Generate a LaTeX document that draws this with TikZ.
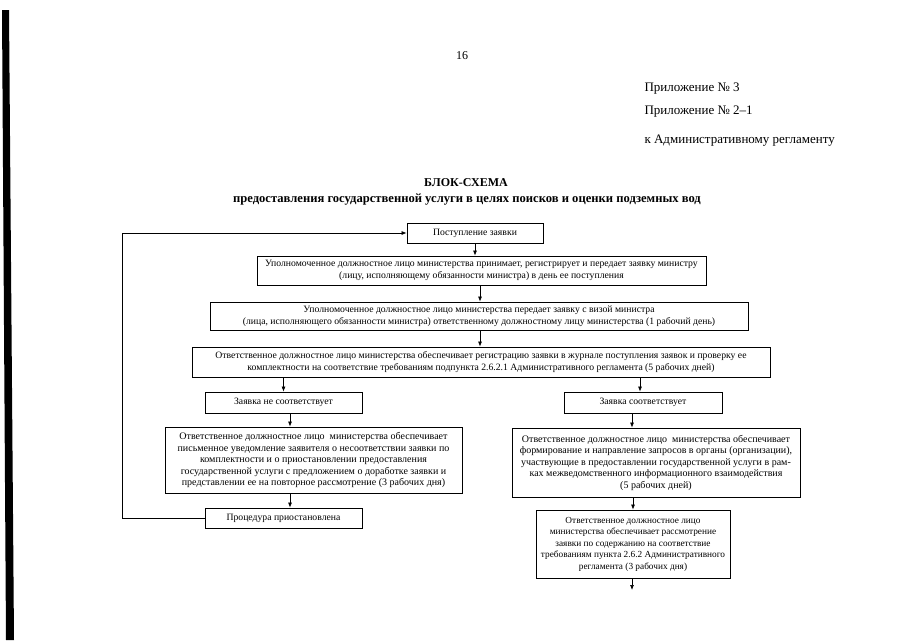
\documentclass[tikz,border=0pt]{standalone}
\usepackage{fontspec}
\setmainfont{Liberation Serif}
\usetikzlibrary{arrows.meta}

\begin{document}
\begin{tikzpicture}[x=1pt, y=-1pt,
  every node/.style={font=\fontsize{9.7}{11.5}\selectfont},
  blk/.style={draw, line width=0.8pt, align=center, inner sep=2pt},
  side/.style={blk, font=\fontsize{10}{11.5}\selectfont},
  arr/.style={-{Latex[length=5pt,width=4pt]}, line width=0.7pt},
  hdr/.style={anchor=west, font=\fontsize{13}{15}\selectfont}]
\useasboundingbox (0,0) rectangle (905,640);
% scanned page edge
\fill (2,10) -- (9,10) -- (14,640) -- (6,640) -- cycle;
% header
\node[font=\fontsize{12}{14}\selectfont] (page) at (462,56) {16};
\node[hdr] (app3) at (641,89) {Приложение № 3};
\node[hdr] (app21) at (641,112) {Приложение № 2--1};
\node[hdr] (reg) at (641,141) {к Административному регламенту};
\node[font=\fontsize{12}{14}\selectfont\bfseries] (title) at (466,183) {БЛОК-СХЕМА};
\node[font=\fontsize{12.6}{14}\selectfont\bfseries] (subtitle) at (467,200) {предоставления государственной услуги в целях поисков и оценки подземных вод};
% main column
\node[blk, minimum width=136pt, minimum height=20pt] (b1) at (475,233) {Поступление заявки};
\node[blk, minimum width=449pt, minimum height=29pt] (b2) at (481.5,270.5) {Уполномоченное должностное лицо министерства принимает, регистрирует и передает заявку министру\\(лицу, исполняющему обязанности министра) в день ее поступления};
\node[blk, minimum width=538pt, minimum height=28pt] (b3) at (479,316) {Уполномоченное должностное лицо министерства передает заявку с визой министра\\(лица, исполняющего обязанности министра) ответственному должностному лицу министерства (1 рабочий день)};
\node[blk, minimum width=578pt, minimum height=30pt] (b4) at (481,362) {Ответственное должностное лицо министерства обеспечивает регистрацию заявки в журнале поступления заявок и проверку ее\\комплектности на соответствие требованиям подпункта 2.6.2.1 Административного регламента (5 рабочих дней)};
% left branch
\node[blk, minimum width=157pt, minimum height=21pt] (nomatch) at (283.5,402.5) {Заявка не соответствует};
\node[side, minimum width=297pt, minimum height=66pt] (notice) at (313.5,460) {Ответственное должностное лицо \ министерства обеспечивает\\письменное уведомление заявителя о несоответствии заявки по\\комплектности и о приостановлении предоставления\\государственной услуги с предложением о доработке заявки и\\представлении ее на повторное рассмотрение (3 рабочих дня)};
\node[blk, minimum width=157pt, minimum height=20pt] (stop) at (283.5,518) {Процедура приостановлена};
% right branch
\node[blk, minimum width=158pt, minimum height=21pt] (match) at (643,402.5) {Заявка соответствует};
\node[side, minimum width=288pt, minimum height=69pt] (query) at (656,462.5) {Ответственное должностное лицо \ министерства обеспечивает\\формирование и направление запросов в органы (организации),\\участвующие в предоставлении государственной услуги в рам-\\ках межведомственного информационного взаимодействия\\(5 рабочих дней)};
\node[blk, minimum width=194pt, minimum height=68pt, font=\fontsize{9.3}{11.5}\selectfont] (review) at (633,544) {Ответственное должностное лицо\\министерства обеспечивает рассмотрение\\заявки по содержанию на соответствие\\требованиям пункта 2.6.2 Административного\\регламента (3 рабочих дня)};
\coordinate (loop) at (122,518);
\coordinate (next) at (632,590);
% connectors
\draw[arr] (b1.south) -- (b1.south |- b2.north);
\draw[arr] ([xshift=-1.5pt]b2.south) -- ([xshift=-1.5pt]b2.south |- b3.north);
\draw[arr] ([xshift=1pt]b3.south) -- ([xshift=1pt]b3.south |- b4.north);
\draw[arr] (nomatch.north |- b4.south) -- (nomatch.north);
\draw[arr] ([xshift=-3pt]match.north |- b4.south) -- ([xshift=-3pt]match.north);
\draw[arr] ([xshift=6.5pt]nomatch.south) -- ([xshift=6.5pt]nomatch.south |- notice.north);
\draw[arr] ([xshift=6.5pt]stop.north |- notice.south) -- ([xshift=6.5pt]stop.north);
\draw[arr] ([xshift=-11pt]match.south) -- ([xshift=-11pt]match.south |- query.north);
\draw[arr] (review.north |- query.south) -- (review.north);
\draw[arr] (review.south -| next) -- (next);
\draw[arr] (stop.west) -- (loop) |- (b1.west);
\end{tikzpicture}
\end{document}
